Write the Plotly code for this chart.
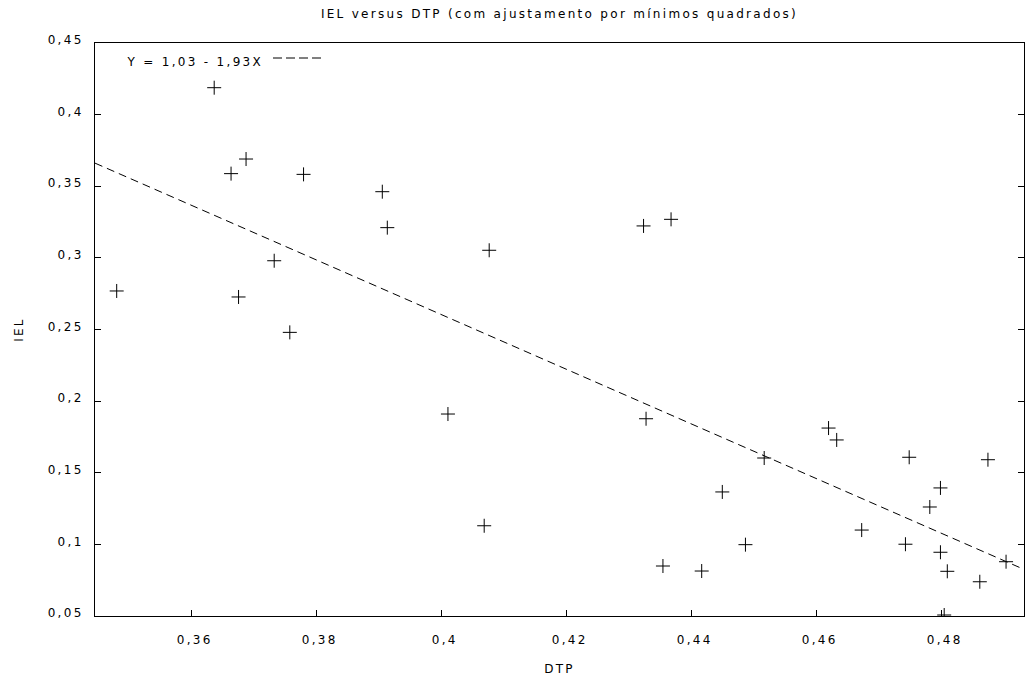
import plotly.graph_objects as go
import numpy as np

# ---- data ----
dtp = [0.3480, 0.3636, 0.3663, 0.3687, 0.3675, 0.3732, 0.3757, 0.3779,
       0.3905, 0.3913, 0.4010, 0.4076, 0.4068, 0.4323, 0.4367, 0.4327,
       0.4354, 0.4416, 0.4449, 0.4486, 0.4516, 0.4619, 0.4632, 0.4672,
       0.4742, 0.4748, 0.4781, 0.4798, 0.4798, 0.4809, 0.4804, 0.4861,
       0.4903, 0.4874]
iel = [0.2769, 0.4188, 0.3588, 0.3690, 0.2727, 0.2980, 0.2480, 0.3583,
       0.3462, 0.3211, 0.1910, 0.3053, 0.1130, 0.3223, 0.3269, 0.1877,
       0.0849, 0.0814, 0.1366, 0.0998, 0.1603, 0.1812, 0.1729, 0.1100,
       0.1001, 0.1608, 0.1261, 0.1394, 0.0945, 0.0812, 0.0507, 0.0739,
       0.0879, 0.1591]

fit_intercept = 1.0235
fit_slope = -1.908
legend_label = "Y = 1,03 - 1,93X"

x_range = [0.34453, 0.49317]
y_range = [0.05, 0.45]
x_tickvals = [0.36, 0.38, 0.40, 0.42, 0.44, 0.46, 0.48]
x_ticktext = ["0,36", "0,38", "0,4", "0,42", "0,44", "0,46", "0,48"]
y_tickvals = [0.05, 0.10, 0.15, 0.20, 0.25, 0.30, 0.35, 0.40, 0.45]
y_ticktext = ["0,05", "0,1", "0,15", "0,2", "0,25", "0,3", "0,35", "0,4", "0,45"]

title_text = "IEL versus DTP (com ajustamento por mínimos quadrados)"
x_title = "DTP"
y_title = "IEL"

FONT = "DejaVu Sans"

fit_x = np.array(x_range)
fit_y = fit_intercept + fit_slope * fit_x

fig = go.Figure()
fig.add_trace(go.Scatter(
    x=fit_x, y=fit_y, mode="lines", name=legend_label,
    line=dict(color="black", width=1, dash="8px,5px"),
    showlegend=False, hoverinfo="skip"))
fig.add_trace(go.Scatter(
    x=dtp, y=iel, mode="markers", name="dados",
    marker=dict(symbol="cross-thin", size=10, color="black",
                line=dict(color="black", width=1)),
    showlegend=False))

# legend (gnuplot style: text then sample on the right)
fig.add_annotation(xref="paper", yref="paper", x=(247 - 95) / 929, y=(616 - 62) / 573,
                   text=legend_label, showarrow=False, xanchor="right", yanchor="middle",
                   font=dict(family=FONT, size=12, color="black"))
fig.add_shape(type="line", xref="paper", yref="paper",
              x0=(273 - 95) / 929, x1=(322 - 95) / 929,
              y0=(616 - 58) / 573, y1=(616 - 58) / 573,
              line=dict(color="black", width=1, dash="9px,4px"))

axis_common = dict(
    showgrid=False, zeroline=False, showline=True, linecolor="black", linewidth=1,
    ticks="inside", ticklen=6, tickcolor="black", tickwidth=1,
    tickfont=dict(family=FONT, size=12, color="black"),
)

fig.update_xaxes(range=x_range, tickvals=x_tickvals, ticktext=x_ticktext,
                 mirror=True, ticklabelstandoff=13, ticklabelshift=3,
                 title=dict(text=x_title, standoff=19,
                            font=dict(family=FONT, size=12, color="black")),
                 **axis_common)
fig.update_yaxes(range=y_range, tickvals=y_tickvals, ticktext=y_ticktext,
                 mirror="ticks", ticklabelstandoff=8, ticklabelshift=-3,
                 title=dict(text=y_title, standoff=30,
                            font=dict(family=FONT, size=12, color="black")),
                 **axis_common)

fig.update_layout(
    width=1026, height=676,
    margin=dict(l=95, r=2, t=43, b=60),
    paper_bgcolor="white", plot_bgcolor="white",
    font=dict(family=FONT, size=12, color="black"),
    title=dict(text=title_text, x=0.5, xref="paper", y=1 - 14 / 676,
               yanchor="middle", font=dict(family=FONT, size=12, color="black")),
)

post = """
document.body.style.margin = '0';
document.body.style.padding = '0';
var gd = document.getElementById('{plot_id}');
gd.querySelectorAll('text').forEach(function(t){ t.style.letterSpacing = '2.3px'; });
"""

fig.write_html("out.html", post_script=post, config={"displayModeBar": False})
